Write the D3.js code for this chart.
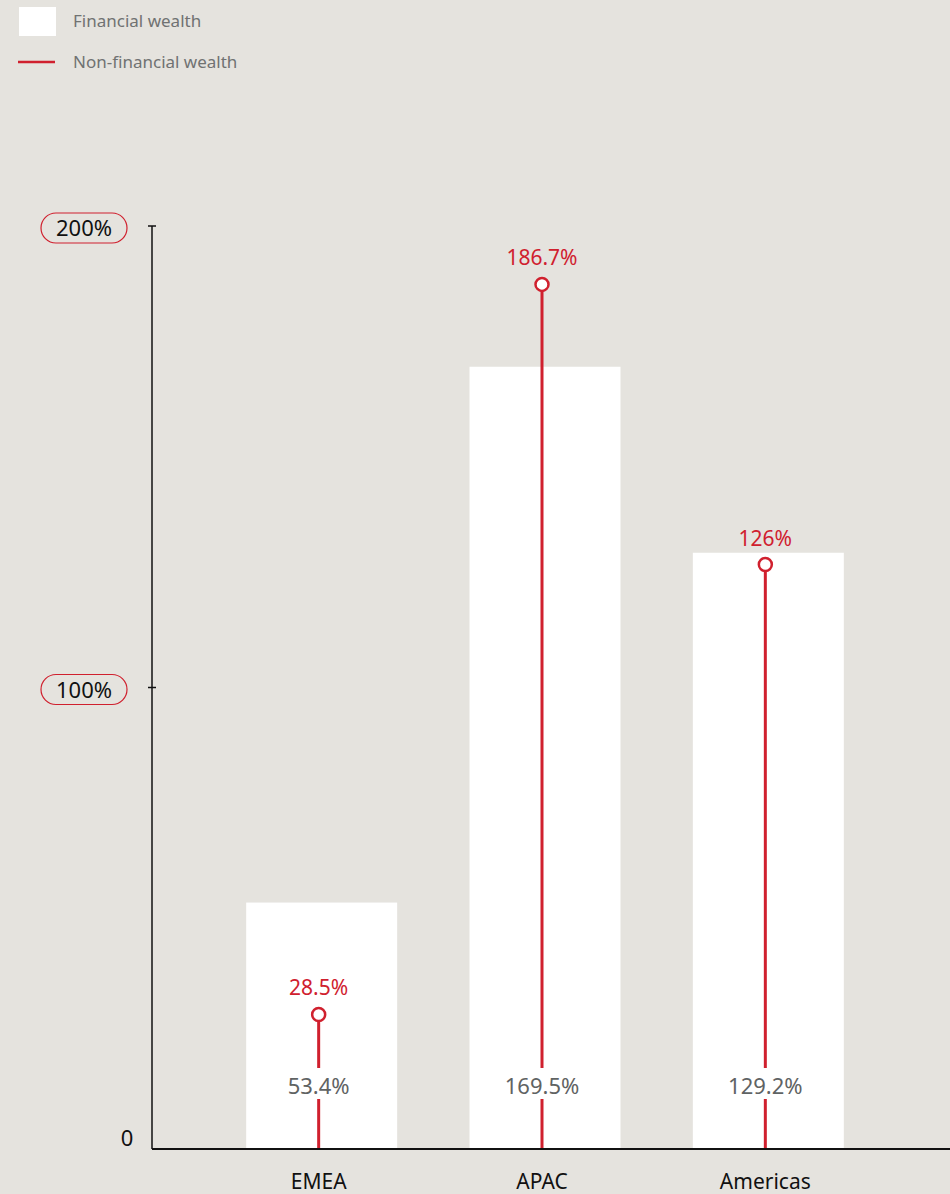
<!DOCTYPE html>
<html>
<head>
<meta charset="utf-8">
<script src="https://cdn.jsdelivr.net/npm/d3@7"></script>
<style>
  body { margin: 0; background: #e5e3de; }
  svg { display: block; font-family: "Noto Sans", "Open Sans", sans-serif; }
</style>
</head>
<body>
<div id="chart"></div>
<script>
// data
var regions = ["EMEA", "APAC", "Americas"];
var financialWealth = [53.4, 169.5, 129.2];
var nonFinancialWealth = [28.5, 186.7, 126];
var yTicks = [0, 100, 200];

var red = "#d0202e";
var width = 950, height = 1194;

var svg = d3.select("#chart").append("svg")
  .attr("width", width)
  .attr("height", height);

// scales
var x = d3.scaleBand().domain(regions).range([210, 880])
  .paddingInner(0.324).paddingOuter(0.162);
var y = d3.scaleLinear().domain([0, 200]).range([1149, 226]);

// legend
svg.append("rect").attr("x", 19).attr("y", 7).attr("width", 37).attr("height", 29).attr("fill", "#fff");
svg.append("text").attr("x", 73).attr("y", 27).attr("font-size", 17).attr("fill", "#707272").text("Financial wealth");
svg.append("line").attr("x1", 18).attr("x2", 55).attr("y1", 62).attr("y2", 62)
  .attr("stroke", red).attr("stroke-width", 2.5);
svg.append("text").attr("x", 73).attr("y", 68).attr("font-size", 17).attr("fill", "#707272").text("Non-financial wealth");

var data = regions.map(function (r, i) {
  return { region: r, fin: financialWealth[i], nonfin: nonFinancialWealth[i] };
});

// bars
svg.selectAll(".bar").data(data).enter().append("rect")
  .attr("x", function (d) { return x(d.region); })
  .attr("y", function (d) { return y(d.fin); })
  .attr("width", x.bandwidth())
  .attr("height", function (d) { return y(0) - y(d.fin); })
  .attr("fill", "#fff");

// lollipop stems (sit slightly left of bar centre, as in the original)
var cx = function (d) { return x(d.region) + x.bandwidth() / 2 - 3; };
svg.selectAll(".stem").data(data).enter().append("line")
  .attr("x1", cx).attr("x2", cx)
  .attr("y1", function (d) { return y(d.nonfin) - 3; })
  .attr("y2", y(0))
  .attr("stroke", red).attr("stroke-width", 3);

// grey financial labels with a white gap in the stem
var finLabel = svg.selectAll(".fin").data(data).enter().append("g");
finLabel.append("rect")
  .attr("x", function (d) { return cx(d) - 10; })
  .attr("y", 1068).attr("width", 20).attr("height", 31)
  .attr("fill", "#fff");
finLabel.append("text")
  .attr("x", cx).attr("y", 1094)
  .attr("text-anchor", "middle").attr("font-size", 22).attr("fill", "#5f6363")
  .text(function (d) { return d.fin + "%"; });

// circles and red labels
svg.selectAll(".dot").data(data).enter().append("circle")
  .attr("cx", cx)
  .attr("cy", function (d) { return y(d.nonfin) - 3; })
  .attr("r", 6.5)
  .attr("fill", "#fff").attr("stroke", red).attr("stroke-width", 2.5);

svg.selectAll(".nf").data(data).enter().append("text")
  .attr("x", cx)
  .attr("y", function (d) { return y(d.nonfin) - 22; })
  .attr("text-anchor", "middle").attr("font-size", 21).attr("fill", red)
  .text(function (d) { return d.nonfin + "%"; });

// axes
svg.append("line").attr("x1", 152).attr("x2", 950).attr("y1", y(0)).attr("y2", y(0))
  .attr("stroke", "#111").attr("stroke-width", 2);
svg.append("line").attr("x1", 152).attr("x2", 152).attr("y1", y(200)).attr("y2", y(0))
  .attr("stroke", "#111").attr("stroke-width", 1.5);

var ticks = svg.selectAll(".ytick").data(yTicks).enter().append("g")
  .attr("transform", function (d) { return "translate(0," + y(d) + ")"; });
ticks.filter(function (d) { return d > 0; }).append("line")
  .attr("x1", 148).attr("x2", 156).attr("stroke", "#111").attr("stroke-width", 1.5);
ticks.filter(function (d) { return d > 0; }).append("rect")
  .attr("x", 41).attr("y", -13).attr("width", 86).attr("height", 30).attr("rx", 15)
  .attr("fill", "none").attr("stroke", red).attr("stroke-width", 1.2);
ticks.append("text")
  .attr("x", function (d) { return d > 0 ? 84 : 127; })
  .attr("y", function (d) { return d > 0 ? 10 : -3; })
  .attr("text-anchor", "middle").attr("font-size", 22).attr("fill", "#111")
  .text(function (d) { return d > 0 ? d + "%" : "0"; });

// category labels
svg.selectAll(".cat").data(data).enter().append("text")
  .attr("x", cx)
  .attr("y", 1189)
  .attr("text-anchor", "middle").attr("font-size", 21).attr("fill", "#111")
  .text(function (d) { return d.region; });
</script>
</body>
</html>
